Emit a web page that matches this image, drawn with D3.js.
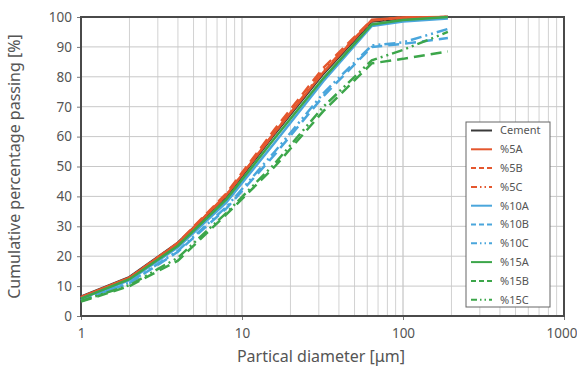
<!DOCTYPE html>
<meta charset="utf-8">
<style>
    body { margin: 0; background: #fff; }
    text { font-family: "Noto Sans", "Open Sans", sans-serif; fill: #555; }
</style>
<svg width="577" height="370"></svg>
<script src="https://d3js.org/d3.v7.min.js"></script>
<script>

    // particle sizes (um) where the curves were measured
    var sizes = [1, 2, 4, 8, 16, 32, 64, 100, 190];

    var cement = [6.5, 13, 24.5, 40, 61, 81, 98.5, 99.5, 100];
    var p5A  = [6.3, 12.8, 24.3, 40.5, 61.5, 81.5, 99, 99.8, 100];
    var p5B  = [6.2, 12.7, 24.5, 41, 62.5, 83, 99, 99.8, 100];
    var p5C  = [6.2, 12.7, 24.3, 40.5, 61.5, 82, 98.8, 99.7, 100];
    var p10A = [5.8, 12, 23, 38, 58, 78.5, 97, 98.5, 99.5];
    var p10B = [5.3, 11, 21.5, 36, 54, 73.5, 90, 91, 93];
    var p10C = [5.3, 11.2, 21.8, 36.5, 55, 74.5, 90.5, 91.5, 96];
    var p15A = [5.8, 12.3, 23.5, 39, 59.5, 79.5, 97.5, 99, 100];
    var p15B = [4.8, 10, 18.5, 34, 50, 68.5, 84.5, 86, 88.5];
    var p15C = [5, 10.3, 19.5, 34.5, 51, 70, 85.5, 89, 95];

    var names = ["Cement", "%5A", "%5B", "%5C", "%10A", "%10B", "%10C", "%15A", "%15B", "%15C"];
    var xTicks = [1, 10, 100, 1000];
    var yTicks = d3.range(0, 101, 10);

    var orange = "#e4572e", blue = "#4aa6dc", green = "#3ca64a";
    var solid = null, dash = "11,6", dashDot = "11,4,2,4,2,4";

    var series = [
        { name: names[0], values: cement, color: "#3a3a3a", dash: solid },
        { name: names[1], values: p5A, color: orange, dash: solid },
        { name: names[2], values: p5B, color: orange, dash: dash },
        { name: names[3], values: p5C, color: orange, dash: dashDot },
        { name: names[4], values: p10A, color: blue, dash: solid },
        { name: names[5], values: p10B, color: blue, dash: dash },
        { name: names[6], values: p10C, color: blue, dash: dashDot },
        { name: names[7], values: p15A, color: green, dash: solid },
        { name: names[8], values: p15B, color: green, dash: dash },
        { name: names[9], values: p15C, color: green, dash: dashDot }
    ];

    var svg = d3.select("svg");
    var mLeft = 81, mRight = 564, mTop = 17, mBottom = 316;

    var x = d3.scaleLog().domain([1, 1000]).range([mLeft, mRight]);
    var y = d3.scaleLinear().domain([0, 100]).range([mBottom, mTop]);

    // grid
    var minor = [];
    [1, 10, 100].forEach(function (b) {
        for (var i = 1; i <= 9; i++) minor.push(b * i);
    });
    svg.append("g").selectAll("line").data(minor).enter().append("line")
        .attr("x1", function (d) { return x(d); }).attr("x2", function (d) { return x(d); })
        .attr("y1", mTop).attr("y2", mBottom)
        .attr("stroke", function (d) { return xTicks.indexOf(d) >= 0 ? "#b8b8b8" : "#d2d2d2"; })
        .attr("stroke-width", 1);
    svg.append("g").selectAll("line").data(yTicks).enter().append("line")
        .attr("x1", mLeft).attr("x2", mRight)
        .attr("y1", function (d) { return y(d); }).attr("y2", function (d) { return y(d); })
        .attr("stroke", "#c8c8c8").attr("stroke-width", 1);

    // axes
    var xAxis = svg.append("g").attr("transform", "translate(0," + mBottom + ")")
        .call(d3.axisBottom(x).tickValues(xTicks).tickFormat(d3.format("d")).tickSize(4).tickPadding(8));
    var yAxis = svg.append("g").attr("transform", "translate(" + mLeft + ",0)")
        .call(d3.axisLeft(y).tickValues(yTicks).tickSize(4).tickPadding(5));
    [xAxis, yAxis].forEach(function (g) {
        g.select(".domain").remove();
        g.selectAll("line").attr("stroke", "#777");
        g.selectAll("text").style("font-size", "13.5px").attr("fill", "#555");
    });
    // last label sits flush with the right edge
    xAxis.selectAll(".tick text").filter(function (d) { return d === 1000; })
        .attr("text-anchor", "end").attr("dx", 13);

    svg.append("rect")
        .attr("x", mLeft).attr("y", mTop).attr("width", mRight - mLeft).attr("height", mBottom - mTop)
        .attr("fill", "none").attr("stroke", "#4a4a4a").attr("stroke-width", 2);

    // curves
    var line = d3.line()
        .x(function (d, i) { return x(sizes[i]); })
        .y(function (d) { return y(d); });

    svg.append("g").selectAll("path").data(series).enter().append("path")
        .attr("d", function (s) { return line(s.values); })
        .attr("fill", "none")
        .attr("stroke", function (s) { return s.color; })
        .attr("stroke-width", 2.5)
        .attr("stroke-dasharray", function (s) { return s.dash; });

    // legend
    var lg = svg.append("g").attr("transform", "translate(466,122)");
    lg.append("rect").attr("width", 84).attr("height", 185)
        .attr("fill", "#fff").attr("stroke", "#666").attr("stroke-width", 1);
    var row = lg.selectAll("g").data(series).enter().append("g")
        .attr("transform", function (d, i) { return "translate(0," + (8.5 + i * 18.8) + ")"; });
    row.append("line").attr("x1", 5).attr("x2", 26)
        .attr("stroke", function (s) { return s.color; })
        .attr("stroke-width", 2)
        .attr("stroke-dasharray", function (s) { return s.dash ? (s.dash === dash ? "5,3" : "6,3,1.5,3,1.5,3") : null; });
    row.append("text").attr("x", 34).attr("dy", "0.35em")
        .style("font-size", "11px").attr("fill", "#444")
        .text(function (s) { return s.name; });

    // axis titles
    svg.append("text")
        .attr("x", 321).attr("y", 362)
        .attr("text-anchor", "middle").style("font-size", "16px")
        .text("Partical diameter [μm]");
    svg.append("text")
        .attr("transform", "translate(20," + ((mTop + mBottom) / 2) + ") rotate(-90)")
        .attr("text-anchor", "middle").style("font-size", "16px")
        .text("Cumulative percentage passing [%]");

</script>
